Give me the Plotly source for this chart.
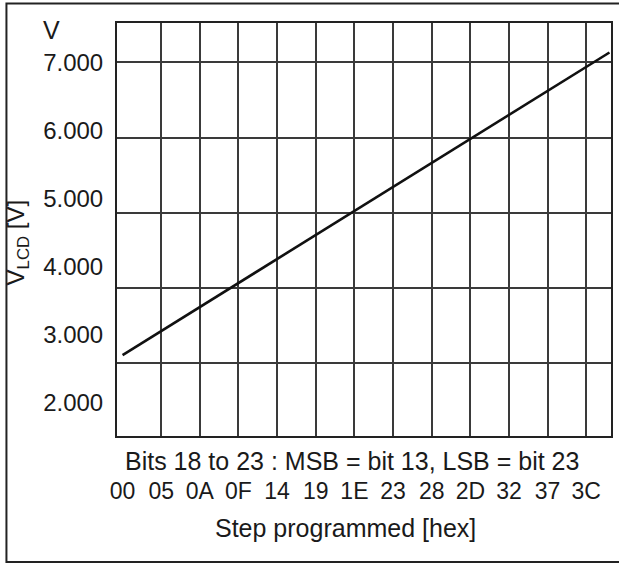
import plotly.graph_objects as go

# ---- data ----
step_hex = ["00", "3F"]          # programmed step (hex)
vlcd = [3.11, 7.13]              # V_LCD in volts

x_tick_labels = ["00", "05", "0A", "0F", "14", "19", "1E", "23", "28", "2D", "32", "37", "3C"]
y_tick_values = [2, 3, 4, 5, 6, 7]
y_tick_labels = ["2.000", "3.000", "4.000", "5.000", "6.000", "7.000"]

steps = [int(h, 16) for h in step_hex]
x_tick_vals = [int(h, 16) for h in x_tick_labels]

FONT = "Arial, Liberation Sans, sans-serif"
TXT = "#1a1a1a"
GRID = "#3a3a3a"

fig = go.Figure()
fig.add_trace(go.Scatter(x=steps, y=vlcd, mode="lines",
                         line=dict(color="#111111", width=2.6),
                         hoverinfo="skip", showlegend=False))
# invisible twin so the overlay axes are laid out
fig.add_trace(go.Scatter(x=steps, y=vlcd, xaxis="x2", yaxis="y2", mode="lines",
                         line=dict(color="rgba(0,0,0,0)"), hoverinfo="skip",
                         showlegend=False))

XR = [-0.72, 63.2]
fig.update_layout(
    width=619, height=563,
    margin=dict(l=117, r=6, t=23, b=127),
    paper_bgcolor="white", plot_bgcolor="white",
    font=dict(family=FONT, size=24, color=TXT),
    xaxis=dict(range=XR, tickmode="array", tickvals=x_tick_vals[1:],
               showticklabels=False, ticks="", showgrid=True,
               gridcolor=GRID, gridwidth=1.5, zeroline=False,
               showline=True, linecolor="#222", linewidth=2, mirror=True),
    yaxis=dict(range=[2.034, 7.522], tickmode="array", tickvals=y_tick_values,
               showticklabels=False, ticks="", showgrid=True,
               gridcolor=GRID, gridwidth=1.5, zeroline=False,
               showline=True, linecolor="#222", linewidth=2, mirror=True),
    xaxis2=dict(range=XR, overlaying="x", anchor="y", side="bottom",
                tickmode="array", tickvals=x_tick_vals, ticktext=x_tick_labels,
                showgrid=False, zeroline=False, showline=False,
                ticks="outside", ticklen=34, tickcolor="rgba(0,0,0,0)",
                tickfont=dict(size=23, color=TXT, family=FONT)),
    yaxis2=dict(range=[1.515, 7.588], overlaying="y", anchor="x", side="left",
                tickmode="array", tickvals=y_tick_values, ticktext=y_tick_labels,
                showgrid=False, zeroline=False, showline=False,
                ticks="outside", ticklen=8, tickcolor="rgba(0,0,0,0)",
                tickfont=dict(size=24, color=TXT, family=FONT)),
)

fig.add_annotation(text="V", xref="paper", yref="paper", x=-0.1317, y=0.983,
                   showarrow=False, xanchor="center", yanchor="middle",
                   font=dict(size=25, color=TXT, family=FONT))
fig.add_annotation(text="V<sub>LCD</sub> [V]", xref="paper", yref="paper",
                   x=-0.2016, y=0.4697, textangle=-90, showarrow=False,
                   xanchor="center", yanchor="middle",
                   font=dict(size=24, color=TXT, family=FONT))
fig.add_annotation(text="Bits 18 to 23 : MSB = bit 13, LSB = bit 23",
                   xref="paper", yref="paper", x=0.475, y=-0.0605,
                   showarrow=False, xanchor="center", yanchor="middle",
                   font=dict(size=25, color=TXT, family=FONT))
fig.add_annotation(text="Step programmed [hex]", xref="paper", yref="paper",
                   x=0.463, y=-0.2228, showarrow=False, xanchor="center",
                   yanchor="middle", font=dict(size=25, color=TXT, family=FONT))

# outer frame
fig.add_shape(type="rect", xref="paper", yref="paper",
              x0=-0.2238, x1=1.03, y0=-0.3051, y1=1.0472,
              line=dict(color="#222", width=2), fillcolor="rgba(0,0,0,0)",
              layer="below")

fig.write_html("out.html",
               config={"displayModeBar": False},
               post_script="document.body.style.margin='0';"
                           "document.body.style.overflow='hidden';")
